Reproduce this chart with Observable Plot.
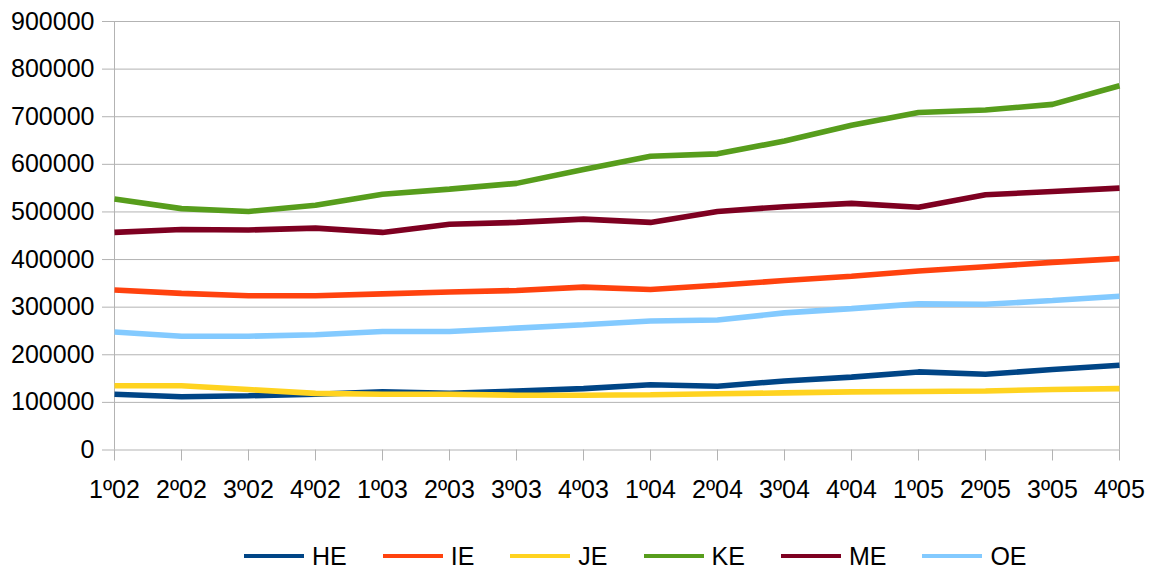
<!DOCTYPE html>
<html><head><meta charset="utf-8">
<script src="https://cdn.jsdelivr.net/npm/d3@7"></script>
<script src="https://cdn.jsdelivr.net/npm/@observablehq/plot@0.6"></script>
<style>
body{margin:0;background:#fff;font-family:"Liberation Sans",Arial,sans-serif;}
#wrap{position:relative;width:1154px;height:572px;}
#legend{position:absolute;left:244px;top:541px;height:30px;display:flex;align-items:center;font-size:25px;color:#000;}
.item{display:flex;align-items:center;margin-right:36px;}
.sw{width:60px;height:4.5px;margin-right:8px;}
</style></head><body><div id="wrap"><div id="chart"></div><div id="legend"></div></div>
<script>
const quarters = ["1º02","2º02","3º02","4º02","1º03","2º03","3º03","4º03","1º04","2º04","3º04","4º04","1º05","2º05","3º05","4º05"];
const seriesNames = ["HE","IE","JE","KE","ME","OE"];
const seriesColors = ["#004586","#ff420e","#ffd320","#579d1c","#7e0021","#83caff"];
const HE = [117000,112000,114000,117000,122000,119000,124000,129000,137000,134000,145000,153000,164000,159000,169000,178000];
const IE = [336000,329000,324000,324000,328000,332000,335000,342000,337000,346000,356000,365000,376000,385000,394000,402000];
const JE = [135000,135000,127000,119000,117000,117000,115000,115000,116000,118000,120000,122000,123000,124000,127000,129000];
const KE = [527000,507000,501000,514000,537000,548000,560000,589000,617000,622000,649000,682000,709000,714000,726000,765000];
const ME = [457000,463000,462000,466000,457000,474000,478000,485000,478000,501000,511000,518000,510000,536000,543000,550000];
const OE = [248000,239000,239000,242000,249000,249000,256000,263000,271000,273000,288000,297000,307000,306000,314000,323000];
const yTicks = [0,100000,200000,300000,400000,500000,600000,700000,800000,900000];

const seriesValues = [HE, IE, JE, KE, ME, OE];
const data = seriesNames.flatMap((name, k) => seriesValues[k].map((v, i) => ({q: quarters[i], v, s: name})));
const grid = "#b3b3b3";

const chart = Plot.plot({
  width: 1154, height: 520,
  marginTop: 21, marginBottom: 70.5, marginLeft: 113, marginRight: 34,
  style: {fontFamily: "'Liberation Sans', Arial, sans-serif", fontSize: "25px", color: "#000", background: "#fff"},
  x: {type: "point", domain: quarters, padding: 0, label: null},
  y: {domain: [0, 900000], label: null},
  color: {domain: seriesNames, range: seriesColors},
  marks: [
    Plot.gridY(yTicks, {stroke: grid, strokeOpacity: 1}),
    Plot.ruleX([quarters[0], quarters[quarters.length - 1]], {stroke: grid, strokeOpacity: 1}),
    Plot.axisY(yTicks, {tickSize: 11, tickPadding: 8, tickFormat: d3.format("d"), stroke: grid, fill: "#000", label: null}),
    Plot.axisX({tickSize: 11, tickPadding: 19, stroke: grid, fill: "#000", label: null}),
    Plot.lineY(data, {x: "q", y: "v", stroke: "s", strokeWidth: 5.6, strokeLinecap: "butt", strokeLinejoin: "miter"})
  ]
});
document.getElementById("chart").appendChild(chart);

const legend = document.getElementById("legend");
seriesNames.forEach((n, i) => {
  const item = document.createElement("div");
  item.className = "item";
  const sw = document.createElement("div");
  sw.className = "sw";
  sw.style.background = seriesColors[i];
  const t = document.createElement("span");
  t.textContent = n;
  item.appendChild(sw); item.appendChild(t);
  legend.appendChild(item);
});
</script>
</body></html>
